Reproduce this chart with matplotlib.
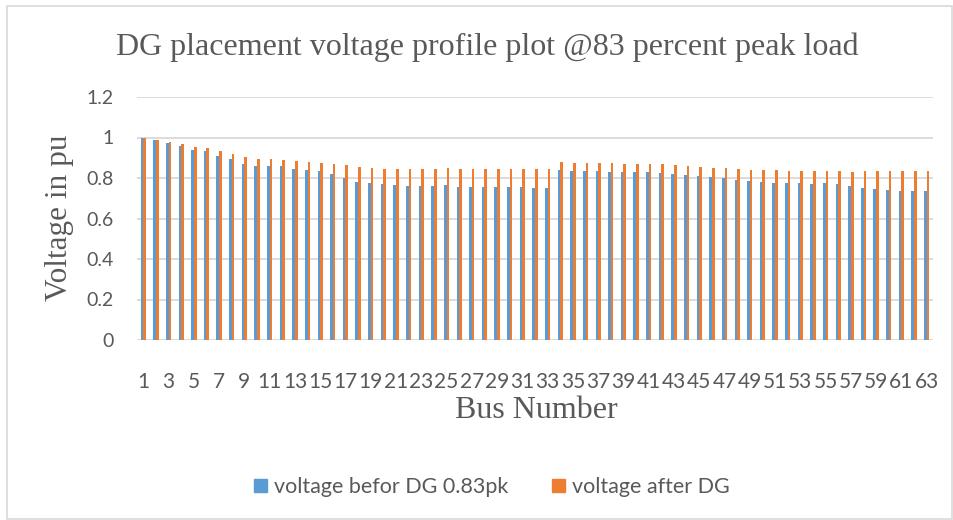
import matplotlib
matplotlib.use("Agg")
import matplotlib.pyplot as plt
from matplotlib.patches import Rectangle, Patch
import numpy as np

buses = list(range(1, 64))
before_dg = [1.000, 0.987, 0.974, 0.959, 0.939, 0.931, 0.910, 0.892, 0.870, 0.859,
             0.857, 0.857, 0.846, 0.839, 0.834, 0.820, 0.802, 0.782, 0.775, 0.770,
             0.766, 0.762, 0.761, 0.759, 0.767, 0.757, 0.756, 0.756, 0.756, 0.754,
             0.754, 0.752, 0.751, 0.841, 0.836, 0.834, 0.833, 0.831, 0.831, 0.831,
             0.828, 0.825, 0.821, 0.816, 0.810, 0.803, 0.800, 0.792, 0.785, 0.782,
             0.777, 0.775, 0.775, 0.772, 0.775, 0.770, 0.759, 0.749, 0.744, 0.743,
             0.738, 0.738, 0.738]
after_dg = [1.000, 0.989, 0.980, 0.967, 0.954, 0.948, 0.931, 0.918, 0.902, 0.892,
            0.892, 0.890, 0.882, 0.879, 0.875, 0.870, 0.864, 0.852, 0.849, 0.846,
            0.844, 0.843, 0.844, 0.844, 0.848, 0.844, 0.844, 0.844, 0.844, 0.844,
            0.844, 0.844, 0.844, 0.879, 0.875, 0.874, 0.872, 0.872, 0.870, 0.870,
            0.869, 0.867, 0.864, 0.861, 0.856, 0.851, 0.849, 0.846, 0.841, 0.839,
            0.838, 0.836, 0.836, 0.834, 0.836, 0.834, 0.831, 0.833, 0.833, 0.833,
            0.833, 0.833, 0.833]
series_names = ["voltage befor DG 0.83pk", "voltage after DG"]
yticks = [0, 0.2, 0.4, 0.6, 0.8, 1.0, 1.2]
ytick_labels = ["0", "0.2", "0.4", "0.6", "0.8", "1", "1.2"]

BLUE = "#5B9BD5"
ORANGE = "#ED7D31"
TXT = "#595959"
GRID = "#D9D9D9"

W, H = 954, 520
fig = plt.figure(figsize=(W / 100, H / 100), dpi=100)
ax = fig.add_axes([137 / W, 1 - 340 / H, (933 - 137) / W, (340 - 97) / H])

x = np.arange(len(buses))
bw = 0.21
ax.bar(x - bw / 2, before_dg, width=bw, color=BLUE, zorder=3)
ax.bar(x + bw / 2, after_dg, width=bw, color=ORANGE, zorder=3)

ax.set_xlim(-0.5, len(buses) - 0.5)
ax.set_ylim(0, 1.2)
ax.set_yticks(yticks)
ax.set_yticklabels(ytick_labels)
ax.set_xticks(x[::2])
ax.set_xticklabels([str(b) for b in buses[::2]])
ax.tick_params(axis="both", length=0, colors=TXT)
ax.tick_params(axis="x", pad=23, labelsize=15)
ax.tick_params(axis="y", pad=17, labelsize=14)
for lab in ax.get_xticklabels() + ax.get_yticklabels():
    lab.set_fontfamily("Lato")
ax.grid(axis="y", color=GRID, linewidth=1.3, zorder=0)
ax.set_axisbelow(True)
for s in ax.spines.values():
    s.set_visible(False)

fig.text(487 / W, 1 - 47 / H, "DG placement voltage profile plot @83 percent peak load",
         ha="center", va="center", fontsize=23, family="Liberation Serif", color=TXT)
fig.text(60 / W, 1 - 218 / H, "Voltage in pu", rotation=90, ha="center", va="center",
         fontsize=22.5, family="Liberation Serif", color=TXT)
fig.text(536 / W, 1 - 411 / H, "Bus Number", ha="center", va="center",
         fontsize=23, family="Liberation Serif", color=TXT)

handles = [Patch(color=BLUE), Patch(color=ORANGE)]
leg = fig.legend(handles, series_names, loc="center", bbox_to_anchor=(492 / W, 1 - 487 / H),
                 ncol=2, frameon=False, handlelength=0.6, handleheight=0.6,
                 handletextpad=0.35, columnspacing=2.0,
                 prop={"family": "Lato", "size": 15.5})
for t in leg.get_texts():
    t.set_color(TXT)

fig.patches.append(Rectangle((7 / W, 1 / H), (W - 9) / W, (H - 7) / H,
                             transform=fig.transFigure, fill=False,
                             edgecolor="#D9D9D9", linewidth=1.2))

fig.savefig("out.png", dpi=100)
